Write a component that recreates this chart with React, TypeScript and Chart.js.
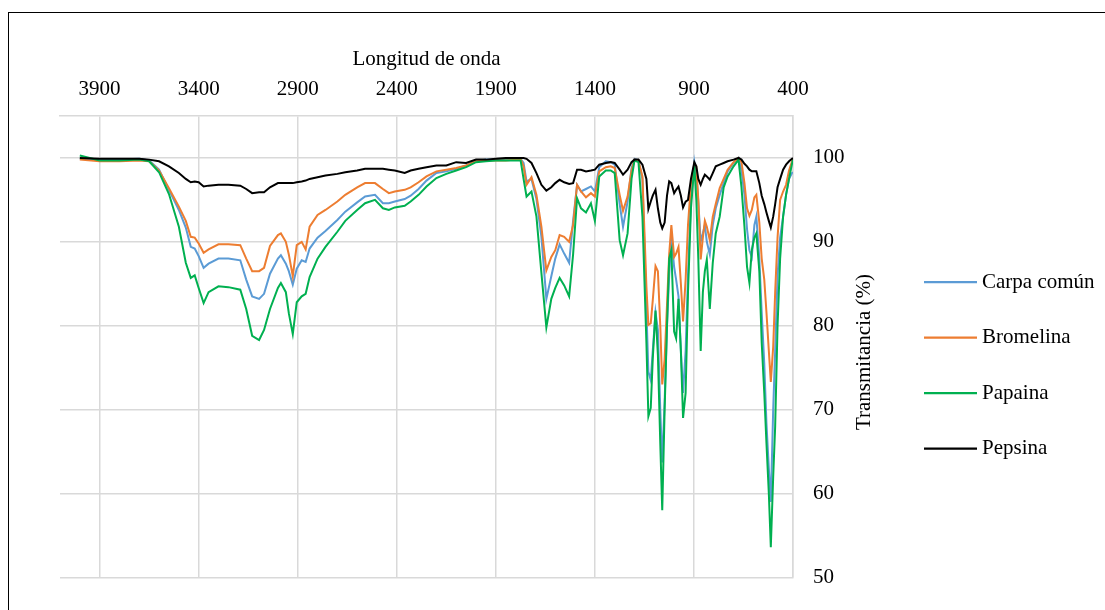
import React, { useEffect, useRef } from "react";
import { Chart, registerables } from "chart.js";

Chart.register(...registerables);

// Wavenumber (cm-1) sample positions
const wavenumbers = [
  4000, 3900, 3800, 3700, 3650, 3600, 3550, 3500, 3465, 3440,
  3420, 3400, 3375, 3350, 3300, 3250, 3190, 3160, 3130, 3095,
  3070, 3040, 3000, 2985, 2960, 2945, 2925, 2905, 2880, 2860,
  2840, 2800, 2760, 2700, 2660, 2600, 2560, 2510, 2470, 2440,
  2410, 2360, 2330, 2290, 2250, 2200, 2150, 2100, 2050, 2000,
  1950, 1900, 1850, 1800, 1775, 1760, 1745, 1720, 1695, 1670,
  1645, 1620, 1600, 1578, 1555, 1530, 1510, 1490, 1470, 1445,
  1420, 1400, 1378, 1345, 1320, 1300, 1275, 1258, 1235, 1215,
  1200, 1180, 1160, 1140, 1130, 1118, 1108, 1094, 1082, 1070,
  1060, 1048, 1036, 1025, 1014, 1000, 990, 978, 966, 955,
  942, 930, 915, 898, 888, 878, 866, 855, 845, 835,
  820, 805, 790, 770, 750, 730, 700, 675, 660, 645,
  632, 620, 608, 595, 585, 570, 558, 545, 534, 522,
  512, 500, 490, 478, 465, 450, 435, 420, 405, 400,
];

const carpaComun = [
  99.9, 99.8, 99.8, 99.9, 99.7, 98.6, 96.2, 93.8, 91.7, 89.4,
  89.2, 88.3, 86.9, 87.4, 88.0, 88.0, 87.8, 85.5, 83.5, 83.2,
  83.8, 86.2, 88.0, 88.4, 87.4, 86.5, 84.9, 86.8, 87.8, 87.6,
  89.2, 90.5, 91.3, 92.6, 93.6, 94.7, 95.4, 95.6, 94.6, 94.6,
  94.8, 95.1, 95.5, 96.3, 97.3, 98.2, 98.4, 98.7, 99.1, 99.6,
  99.8, 99.8, 99.8, 99.9, 99.9, 99.4, 97.2, 97.5, 95.1, 90.6,
  83.2, 85.9, 88.0, 89.7, 88.6, 87.5, 92.5, 96.8, 96.0, 96.3,
  96.6, 96.0, 98.9, 99.6, 99.5, 99.2, 94.5, 91.8, 94.8, 98.8,
  99.9, 99.7, 97.5, 82.0, 74.5, 73.5, 77.0, 81.6, 79.5, 70.0,
  63.7, 71.0, 80.0, 86.0, 90.6, 87.0, 85.5, 83.5, 77.0, 72.0,
  77.0, 86.0, 95.0, 99.5, 98.0, 94.8, 90.0, 91.0, 92.0, 90.0,
  88.5, 92.0, 94.0, 95.6, 97.0, 98.4, 99.4, 100.0, 98.5, 95.6,
  91.5, 89.0, 88.2, 92.0, 93.0, 88.0, 81.6, 75.5, 68.4, 63.0,
  59.0, 70.0, 77.0, 86.0, 90.5, 93.0, 95.6, 97.5, 98.2, 98.3,
];

const bromelina = [
  99.8, 99.6, 99.6, 99.7, 99.6, 98.5, 96.4, 94.2, 92.5, 90.6,
  90.5, 89.8, 88.7, 89.1, 89.7, 89.7, 89.6, 88.0, 86.5, 86.5,
  86.9, 89.5, 90.8, 91.0, 90.0, 88.5, 85.9, 89.6, 90.0, 89.1,
  91.8, 93.2, 93.8, 94.8, 95.6, 96.5, 97.0, 97.0, 96.3, 95.8,
  96.0, 96.2, 96.5, 97.1, 97.8, 98.4, 98.6, 98.8, 99.1, 99.6,
  99.7, 99.7, 99.7, 99.8, 99.9, 99.0, 96.8, 97.7, 95.6, 91.8,
  86.6, 88.2, 89.0, 90.8, 90.6, 90.0, 92.0, 96.8, 96.0, 95.3,
  95.8, 95.4, 98.4, 98.9, 99.0, 98.8, 95.6, 93.7, 95.4, 98.5,
  99.8, 99.6, 97.8, 84.7, 80.1, 80.3, 83.0, 87.1, 86.5, 80.0,
  73.0, 76.0, 82.5, 88.5, 92.0, 88.2, 88.6, 89.4, 85.0, 80.5,
  85.5, 92.0, 97.0, 99.3, 99.0, 95.0, 87.9, 90.5, 92.5, 91.8,
  90.2, 93.0, 94.5, 96.4, 97.5, 98.6, 99.5, 100.0, 99.5, 97.0,
  94.0, 93.1, 93.8, 95.3, 95.6, 92.3, 88.0, 85.5, 81.6, 77.0,
  73.3, 77.5, 84.0, 90.5, 95.0, 96.0, 96.8, 98.5, 99.6, 99.9,
];

const papaina = [
  100.3, 99.7, 99.7, 99.8, 99.6, 98.3, 95.7, 91.8, 87.5, 85.7,
  86.0, 84.5, 82.7, 84.0, 84.7, 84.6, 84.3, 82.0, 78.8, 78.3,
  79.5, 82.0, 84.5, 85.1, 84.0, 81.5, 79.0, 82.8, 83.5, 83.8,
  85.8, 88.0, 89.4, 91.2, 92.5, 93.8, 94.6, 95.0, 94.0, 93.8,
  94.1, 94.3, 94.8, 95.6, 96.6, 97.6, 98.1, 98.5, 98.9, 99.5,
  99.6, 99.7, 99.7, 99.7, 99.7, 97.5, 95.4, 96.0, 93.0, 86.3,
  79.8, 83.2, 84.5, 85.7, 84.8, 83.5, 88.5, 95.2, 94.0, 93.5,
  94.6, 92.5, 97.8, 98.5, 98.5, 98.2, 90.2, 88.4, 91.0, 97.5,
  99.7, 99.5, 93.0, 78.0, 69.2, 70.2, 76.0, 81.8, 76.5, 66.0,
  58.0, 70.0, 80.0, 88.0, 89.0, 79.3, 78.5, 83.2, 77.0, 69.0,
  72.0, 84.0, 94.0, 99.1, 95.0, 88.0, 77.0, 84.0, 86.5, 87.9,
  82.0, 87.5, 91.0, 93.0, 96.5, 97.8, 99.0, 99.8, 96.5, 91.8,
  87.0, 85.1, 89.0, 90.5, 91.0, 86.5, 78.0, 72.0, 66.0, 60.0,
  53.6, 62.0, 68.0, 80.0, 88.0, 93.0, 95.6, 97.5, 99.3, 99.8,
];

const pepsina = [
  100.0, 99.9, 99.9, 99.9, 99.8, 99.6, 99.0, 98.2, 97.5, 97.1,
  97.2, 97.1, 96.6, 96.7, 96.8, 96.8, 96.7, 96.3, 95.8, 95.9,
  95.9, 96.5, 97.0, 97.0, 97.0, 97.0, 97.0, 97.1, 97.2, 97.3,
  97.5, 97.7, 97.9, 98.1, 98.3, 98.5, 98.7, 98.7, 98.7, 98.6,
  98.5, 98.2, 98.5, 98.7, 98.9, 99.1, 99.1, 99.5, 99.4, 99.8,
  99.8, 99.9, 100.0, 100.0, 100.0, 100.0, 99.9, 99.4, 98.2, 96.8,
  96.1, 96.5, 97.0, 97.4, 97.1, 96.9, 97.0, 98.6, 98.6, 98.4,
  98.5, 98.6, 99.2, 99.4, 99.5, 99.4, 98.6, 98.0, 98.6, 99.5,
  99.8, 99.8, 99.2, 97.5, 93.9, 94.8, 95.5, 96.2, 94.0, 92.3,
  91.6, 92.3, 95.5, 97.2, 97.0, 95.8, 96.2, 96.6, 95.5, 94.1,
  94.8, 95.0, 97.5, 99.5, 99.0, 97.5, 96.8, 97.5, 98.0, 97.8,
  97.4, 98.2, 99.0, 99.2, 99.4, 99.6, 99.8, 100.0, 99.8, 99.3,
  99.0, 98.6, 98.4, 98.4, 98.4, 97.0, 95.5, 94.5, 93.5, 92.5,
  91.7, 93.0, 94.5, 96.5, 97.5, 98.6, 99.2, 99.6, 99.9, 100.0,
];

const seriesNames = ["Carpa común", "Bromelina", "Papaina", "Pepsina"];
const seriesValues = [carpaComun, bromelina, papaina, pepsina];
const seriesColors = ["#5B9BD5", "#ED7D31", "#00B050", "#000000"];

const xTicks = [3900, 3400, 2900, 2400, 1900, 1400, 900, 400];
const yTicks = [50, 60, 70, 80, 90, 100];

const xTitle = "Longitud de onda";
const yTitle = "Transmitancia (%)";

const FONT = "'Liberation Serif', 'Times New Roman', serif";
const GRID = "#d9d9d9";

const overlayPlugin = {
  id: "overlay",
  afterDraw(chart: any) {
    const ctx = chart.ctx as CanvasRenderingContext2D;
    ctx.save();
    ctx.fillStyle = "#000";
    ctx.font = `21px ${FONT}`;
    ctx.translate(864, 352);
    ctx.rotate(-Math.PI / 2);
    ctx.textAlign = "center";
    ctx.textBaseline = "middle";
    ctx.fillText(yTitle, 0, 0);
    ctx.restore();

    chart.data.datasets.forEach((ds: any, i: number) => {
      const y = 282 + 55.5 * i;
      ctx.save();
      ctx.strokeStyle = ds.borderColor;
      ctx.lineWidth = 2.25;
      ctx.beginPath();
      ctx.moveTo(924, y);
      ctx.lineTo(977, y);
      ctx.stroke();
      ctx.fillStyle = "#000";
      ctx.font = `21px ${FONT}`;
      ctx.textAlign = "left";
      ctx.textBaseline = "middle";
      ctx.fillText(ds.label, 982, y);
      ctx.restore();
    });
  },
};

export default function App() {
  const canvasRef = useRef<HTMLCanvasElement | null>(null);

  useEffect(() => {
    if (!canvasRef.current) return;
    const datasets = seriesNames.map((name, s) => ({
      label: name,
      data: wavenumbers.map((w, i) => ({ x: w, y: seriesValues[s][i] })),
      borderColor: seriesColors[s],
      backgroundColor: seriesColors[s],
      borderWidth: 2,
      pointRadius: 0,
      tension: 0,
      fill: false,
      order: seriesNames.length - 1 - s,
    }));

    const chart = new Chart(canvasRef.current, {
      type: "line",
      data: { datasets },
      options: {
        animation: false,
        responsive: false,
        maintainAspectRatio: false,
        devicePixelRatio: 1,
        layout: { padding: { left: 60, right: 0, top: 0, bottom: 22 } },
        plugins: {
          legend: { display: false },
          tooltip: { enabled: false },
        },
        scales: {
          x: {
            type: "linear",
            position: "top",
            reverse: true,
            min: 400,
            max: 4100,
            afterBuildTicks: (scale: any) => {
              scale.ticks = xTicks.map((v) => ({ value: v }));
            },
            afterFit: (scale: any) => {
              scale.height = 116;
            },
            grid: { color: GRID, lineWidth: 1.5, drawTicks: false },
            border: { display: true, color: GRID, width: 1.5 },
            ticks: {
              autoSkip: false,
              maxRotation: 0,
              padding: 14,
              color: "#000",
              font: { family: FONT, size: 21 },
              callback: (v: any) => String(v),
            },
            title: {
              display: true,
              text: xTitle,
              color: "#000",
              font: { family: FONT, size: 21 },
              padding: { top: 47, bottom: 0 },
            },
          },
          y: {
            type: "linear",
            position: "right",
            min: 50,
            max: 105,
            afterBuildTicks: (scale: any) => {
              scale.ticks = yTicks.map((v) => ({ value: v }));
            },
            afterFit: (scale: any) => {
              scale.width = 312;
            },
            grid: { color: GRID, lineWidth: 1.5, drawTicks: false },
            border: { display: true, color: GRID, width: 1.5 },
            ticks: {
              padding: 20,
              color: "#000",
              font: { family: FONT, size: 21 },
              callback: (v: any) => String(v),
            },
          },
        },
      },
      plugins: [overlayPlugin],
    });
    return () => chart.destroy();
  }, []);

  return (
    <div
      style={{
        position: "fixed",
        left: 0,
        top: 0,
        width: 1105,
        height: 610,
        overflow: "hidden",
        background: "#fff",
      }}
    >
      <div
        style={{
          position: "absolute",
          left: 8,
          top: 12,
          width: 1400,
          height: 900,
          borderTop: "1.5px solid #000",
          borderLeft: "1.5px solid #000",
        }}
      />
      <canvas
        ref={canvasRef}
        width={1105}
        height={610}
        style={{ position: "absolute", left: 0, top: 0, width: 1105, height: 610 }}
      />
    </div>
  );
}
